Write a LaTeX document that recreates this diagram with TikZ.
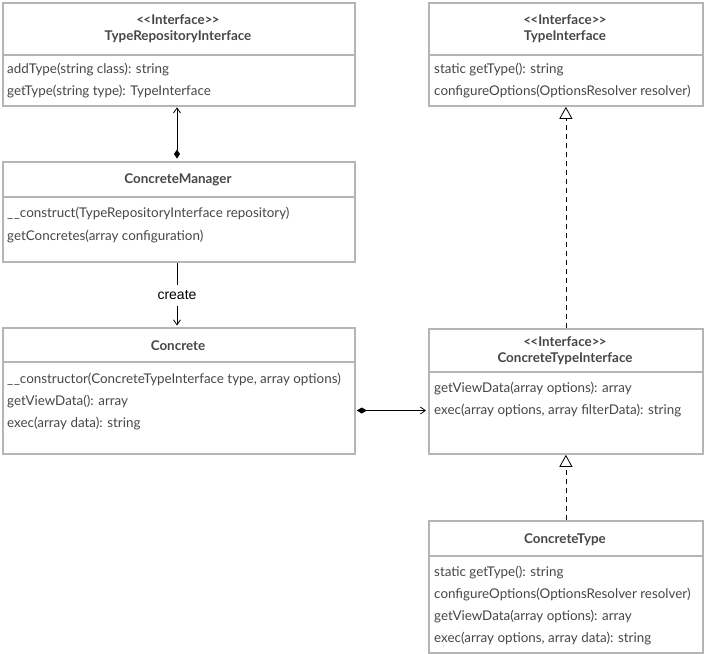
\documentclass[tikz,border=0pt]{standalone}
\usepackage{fontspec}
\setmainfont{Lato}
\newfontfamily\labelfont{Liberation Sans}
\usetikzlibrary{arrows.meta,calc}
\definecolor{boxgray}{HTML}{B5B5B5}
\definecolor{txt}{HTML}{474747}
\newcommand{\stereo}{{<}\kern-0.6pt{<}Interface{>}\kern-0.6pt{>}}
\tikzset{
  classbox/.style={draw=boxgray, line width=1.8pt, fill=white, anchor=north west, inner sep=0pt, rectangle},
  divider/.style={draw=boxgray, line width=1.2pt},
  title/.style={font=\fontsize{13.4}{15}\selectfont\bfseries, text=txt, inner sep=0pt, anchor=center, yshift=-1.5pt},
  meth/.style={font=\fontsize{13.4}{15}\selectfont, text=txt, inner sep=0pt, anchor=west, yshift=-1.5pt},
  conn/.style={draw=black, line width=0.8pt},
  openarr/.style={-{Straight Barb[length=5pt,width=7pt,line width=0.8pt]}},
  realize/.style={dashed, dash pattern=on 5pt off 4pt, -{Triangle[open,length=12pt,width=13pt,fill=white,line width=0.8pt]}},
}
\begin{document}
\begin{tikzpicture}[x=1pt,y=-1pt]
\useasboundingbox (0,0) rectangle (705,654);
% TypeRepositoryInterface
\node[classbox, minimum width=352pt, minimum height=103pt] (tri) at (2,2) {};
\draw[divider] (2,55) -- (354,55);
\node[title] (tri-s) at (178,18) {\stereo};
\node[title] (tri-n) at (178,35) {TypeRepositoryInterface};
\node[meth] (tri-m1) at (7,68) {addType(string class): string};
\node[meth] (tri-m2) at (7,90) {getType(string type): TypeInterface};
% TypeInterface
\node[classbox, minimum width=274pt, minimum height=103pt] (ti) at (428,2) {};
\draw[divider] (428,55) -- (702,55);
\node[title] (ti-s) at (565,18) {\stereo};
\node[title] (ti-n) at (565,35) {TypeInterface};
\node[meth] (ti-m1) at (434,68) {static getType(): string};
\node[meth] (ti-m2) at (434,90) {configureOptions(OptionsResolver resolver)};
% ConcreteManager
\node[classbox, minimum width=352pt, minimum height=100pt] (mgr) at (2,161) {};
\draw[divider] (2,197) -- (354,197);
\node[title] (mgr-n) at (178,178) {ConcreteManager};
\node[meth] (mgr-m1) at (7,212) {\_\hspace{0.5pt}\_construct(TypeRepositoryInterface repository)};
\node[meth] (mgr-m2) at (7,235) {getConcretes(array configuration)};
% Concrete
\node[classbox, minimum width=352pt, minimum height=126pt] (conc) at (2,327) {};
\draw[divider] (2,362) -- (354,362);
\node[title] (conc-n) at (178,344) {Concrete};
\node[meth] (conc-m1) at (7,378) {\_\hspace{0.5pt}\_constructor(ConcreteTypeInterface type, array options)};
\node[meth] (conc-m2) at (7,400) {getViewData(): array};
\node[meth] (conc-m3) at (7,422) {exec(array data): string};
% ConcreteTypeInterface
\node[classbox, minimum width=274pt, minimum height=125pt] (cti) at (428,328) {};
\draw[divider] (428,372) -- (702,372);
\node[title] (cti-s) at (565,340) {\stereo};
\node[title] (cti-n) at (565,357) {ConcreteTypeInterface};
\node[meth] (cti-m1) at (434,387) {getViewData(array options): array};
\node[meth] (cti-m2) at (434,409) {exec(array options, array filterData): string};
% ConcreteType
\node[classbox, minimum width=274pt, minimum height=132pt] (ct) at (428,520) {};
\draw[divider] (428,556) -- (702,556);
\node[title] (ct-n) at (565,538) {ConcreteType};
\node[meth] (ct-m1) at (434,571) {static getType(): string};
\node[meth] (ct-m2) at (434,593) {configureOptions(OptionsResolver resolver)};
\node[meth] (ct-m3) at (434,615) {getViewData(array options): array};
\node[meth] (ct-m4) at (434,637) {exec(array options, array data): string};
% connectors
\draw[conn, {Diamond[length=9pt,width=6pt]}-{Straight Barb[length=5pt,width=7pt,line width=0.8pt]}, shorten <=2.5pt, shorten >=0.5pt]
  ($(mgr.north west)+(175,0)$) -- ($(tri.south west)+(175,0)$);
\node[font=\labelfont\fontsize{14}{16}\selectfont, inner sep=0pt] (create) at (177,295) {create};
\draw[conn] ($(mgr.south west)+(175,0)$) -- ($(create.north)+(0,-5)$);
\draw[conn, openarr, shorten >=1.5pt] ($(create.south)+(0,6)$) -- ($(conc.north west)+(175,0)$);
\draw[conn, {Diamond[length=10pt,width=6pt]}-{Straight Barb[length=5pt,width=7pt,line width=0.8pt]}, shorten <=1pt, shorten >=2pt]
  (conc.east |- cti-m2.west) -- (cti.west |- cti-m2.west);
\draw[conn, realize] (cti.north -| ti.south) -- (ti.south);
\draw[conn, realize] (ct.north) -- (cti.south);
\end{tikzpicture}
\end{document}
